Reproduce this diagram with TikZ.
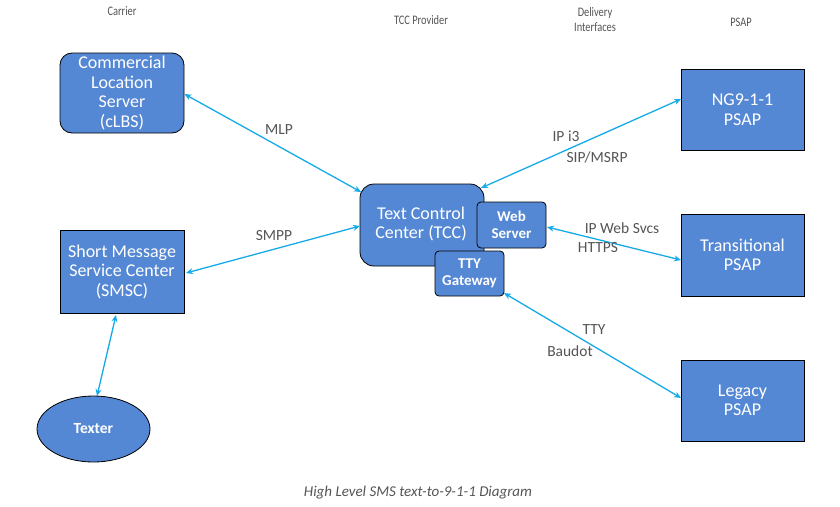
\documentclass[tikz,border=0pt]{standalone}
\usepackage{fontspec}
\setmainfont{Carlito}
\usetikzlibrary{shapes.geometric,arrows.meta}
\definecolor{boxblue}{RGB}{85,136,212}
\definecolor{linkcyan}{RGB}{22,170,232}
\definecolor{labgray}{RGB}{85,85,85}
\newcommand{\hcond}[1]{\scalebox{0.8}[1]{#1}}
\tikzset{
  box/.style={draw=black, line width=0.8pt, fill=boxblue, text=white, align=center, inner sep=0pt,
    font=\fontsize{18}{19.5}\selectfont},
  smallbox/.style={box, font=\fontsize{15}{17}\selectfont\bfseries},
  link/.style={linkcyan, line width=1.3pt, {Stealth[length=7pt,width=6pt]}-{Stealth[length=7pt,width=6pt]}},
  lab/.style={text=labgray, font=\fontsize{15.5}{17}\selectfont, inner sep=0pt},
  head/.style={text=labgray, font=\fontsize{13}{15}\selectfont, inner sep=0pt, align=center},
}
\begin{document}
\begin{tikzpicture}[x=1pt,y=-1pt]
\useasboundingbox[fill=white] (0,0) rectangle (840,506);
% headers
\node[head] (hcar) at (122,11) {\hcond{Carrier}};
\node[head] (htcc) at (421,20) {\hcond{TCC Provider}};
\node[head] (hdel) at (595,20) {\hcond{Delivery}\\\hcond{Interfaces}};
\node[head] (hpsap) at (741,22) {\hcond{PSAP}};
% nodes
\node[box, rounded corners=12pt, minimum width=124pt, minimum height=80pt] (clbs) at (122,93) {Commercial\\Location\\Server\\(cLBS)};
\node[box, minimum width=124pt, minimum height=83pt] (smsc) at (122,271.5) {Short Message\\Service Center\\(SMSC)};
\node[box, ellipse, minimum width=113pt, minimum height=66pt, font=\fontsize{15.5}{17}\selectfont\bfseries] (texter) at (93.5,429) {Texter};
\node[box, rounded corners=14pt, minimum width=124pt, minimum height=82pt] (tcc) at (422,225) {};
\node[box, draw=none, fill=none, anchor=center] (tcct) at (421,224) {Text Control\\Center (TCC)};
\node[smallbox, rounded corners=4pt, minimum width=69pt, minimum height=46pt] (web) at (511.5,225) {Web\\Server};
\node[smallbox, rounded corners=4pt, minimum width=69pt, minimum height=45pt] (tty) at (469.5,273.5) {TTY\\Gateway};
\node[box, minimum width=123pt, minimum height=81pt] (ng) at (742.5,109.5) {NG9-1-1\\PSAP};
\node[box, minimum width=123pt, minimum height=82pt] (trans) at (742.5,255) {Transitional\\PSAP};
\node[box, minimum width=123pt, minimum height=81pt] (leg) at (742.5,400.5) {Legacy\\PSAP};
% connectors
\coordinate (c1) at (184,94);
\coordinate (c2) at (361,192);
\draw[link] (clbs.east |- c1) -- (c2);
\coordinate (s1) at (186,273);
\coordinate (s2) at (360,226);
\draw[link] (s1) -- (s2);
\coordinate (t1) at (116,315);
\coordinate (t2) at (97,396);
\draw[link] (t1) -- (t2);
\coordinate (n1) at (681,99);
\coordinate (n2) at (481,188);
\draw[link] (n1) -- (n2);
\coordinate (w1) at (547,227);
\coordinate (w2) at (681,260);
\draw[link] (w1) -- (w2);
\coordinate (g1) at (504,293);
\coordinate (g2) at (681,398);
\draw[link] (g1) -- (g2);
% labels
\node[lab] (lmlp) at (279,130) {MLP};
\node[lab] (lsmpp) at (274,236) {SMPP};
\node[lab] (li3) at (566,136) {IP i3};
\node[lab] (lsip) at (597,157) {SIP/MSRP};
\node[lab] (lweb) at (622,228) {IP Web Svcs};
\node[lab] (lhttps) at (598,248) {HTTPS};
\node[lab] (ltty) at (594,330) {TTY};
\node[lab] (lbau) at (570,351) {Baudot};
\node[lab, font=\fontsize{15}{16}\selectfont\itshape] (cap) at (418,493) {High Level SMS text-to-9-1-1 Diagram};
\end{tikzpicture}
\end{document}
